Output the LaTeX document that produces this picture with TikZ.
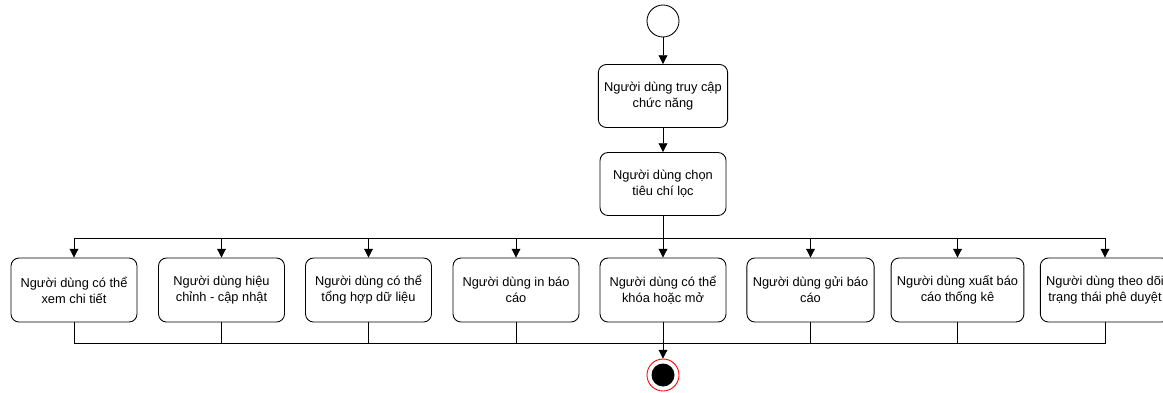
\documentclass[tikz,border=0pt]{standalone}
\usepackage{fontspec}
\setmainfont{Liberation Sans}
\usepackage{tikz}
\usetikzlibrary{arrows.meta}

\tikzset{
  act/.style={draw, rounded corners=0.16cm, minimum width=2.52cm, minimum height=1.26cm,
    align=center, font=\fontsize{7.3}{9.1}\selectfont, line width=0.5pt},
  flow/.style={line width=0.5pt, -{Triangle[length=5pt,width=5pt]}},
  link/.style={line width=0.5pt}
}

\begin{document}
\begin{tikzpicture}
    \useasboundingbox (0,0) rectangle (23.26,7.84);
    \node[circle, draw, line width=0.5pt, minimum size=0.64cm, inner sep=0pt] (start) at (13.26, 7.42) {};
    \node[act] (access) at (13.26, 5.92) {Người dùng truy cập\\chức năng};
    \node[act] (filter) at (13.26, 4.16) {Người dùng chọn\\tiêu chí lọc};

    \node[act, minimum height=1.28cm] (view) at (1.48, 2.04) {Người dùng có thể\\xem chi tiết};
    \node[act, minimum height=1.28cm] (edit) at (4.43, 2.04) {Người dùng hiệu\\chỉnh - cập nhật};
    \node[act, minimum height=1.28cm] (sum) at (7.37, 2.04) {Người dùng có thể\\tổng hợp dữ liệu};
    \node[act, minimum height=1.28cm] (print) at (10.32, 2.04) {Người dùng in báo\\cáo};
    \node[act, minimum height=1.28cm] (lock) at (13.26, 2.04) {Người dùng có thể\\khóa hoặc mở};
    \node[act, minimum height=1.28cm] (send) at (16.21, 2.04) {Người dùng gửi báo\\cáo};
    \node[act, minimum height=1.28cm] (export) at (19.15, 2.04) {Người dùng xuất báo\\cáo thống kê};
    \node[act, minimum height=1.28cm] (track) at (22.10, 2.04) {Người dùng theo dõi\\trạng thái phê duyệt};

    \node[circle, draw=red, line width=0.5pt, fill=white, minimum size=0.64cm, inner sep=0pt] (end) at (13.26, 0.34) {};
    \node[circle, fill=black, minimum size=0.46cm, inner sep=0pt] (endin) at (end) {};

    \coordinate (split) at (13.26, 3.08);
    \coordinate (join) at (13.26, 0.98);

    \draw[flow] (start) -- (access);
    \draw[flow] (access) -- (filter);
    \draw[link] (filter) -- (split);
    \draw[flow] (split) -| (view.north);
    \draw[flow] (split) -| (edit.north);
    \draw[flow] (split) -| (sum.north);
    \draw[flow] (split) -| (print.north);
    \draw[flow] (split) -- (lock.north);
    \draw[flow] (split) -| (send.north);
    \draw[flow] (split) -| (export.north);
    \draw[flow] (split) -| (track.north);

    \draw[link] (view.south) |- (join);
    \draw[link] (edit.south) |- (join);
    \draw[link] (sum.south) |- (join);
    \draw[link] (print.south) |- (join);
    \draw[link] (lock.south) -- (join);
    \draw[link] (send.south) |- (join);
    \draw[link] (export.south) |- (join);
    \draw[link] (track.south) |- (join);
    \draw[flow] (join) -- (end);
  \end{tikzpicture}
\end{document}
